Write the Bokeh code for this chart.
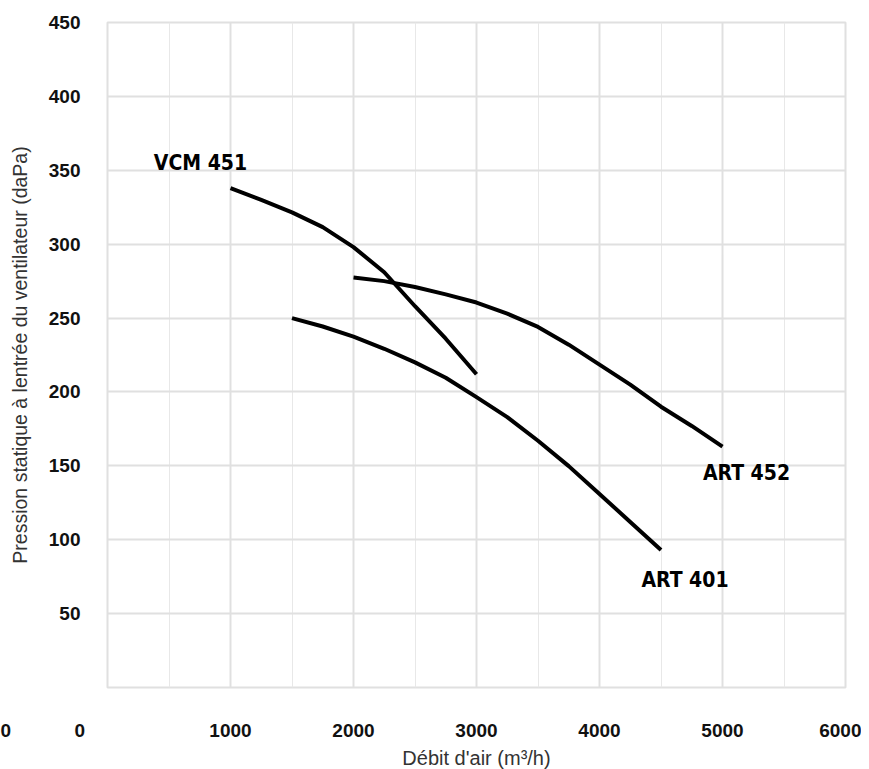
from bokeh.plotting import figure
from bokeh.models import FixedTicker, Range1d, ColumnDataSource
from bokeh.core.properties import value
from bokeh.embed import file_html
from bokeh.resources import INLINE

# ---- data ----
vcm451_x = [1000, 1250, 1500, 1750, 2000, 2250, 2500, 2750, 3000]
vcm451_y = [338, 330, 321.5, 311.5, 298, 281, 258, 236, 212]

art452_x = [2000, 2250, 2500, 2750, 3000, 3250, 3500, 3750, 4000, 4250, 4500, 4750, 5000]
art452_y = [277.5, 275, 271, 266, 260.5, 253, 244, 232, 218.5, 205, 190, 177, 163]

art401_x = [1500, 1750, 2000, 2250, 2500, 2750, 3000, 3250, 3500, 3750, 4000, 4250, 4500]
art401_y = [250, 244.3, 237.5, 229.2, 220, 209.6, 196.5, 183, 167, 149.8, 131, 112, 93]

series_names = ["VCM 451", "ART 452", "ART 401"]
name_x = [756, 5195, 4695]
name_y = [355, 145, 73]

x_ticks = [0, 1000, 2000, 3000, 4000, 5000, 6000]
x_minor = [500, 1500, 2500, 3500, 4500, 5500]
y_ticks = [0, 50, 100, 150, 200, 250, 300, 350, 400, 450]
NB = "\u00a0"
x_zero_label = "0" + NB * 12 + "0" + NB * 31

x_title = "Débit d'air (m³/h)"
y_title = "Pression statique à lentrée du ventilateur (daPa)"

# ---- figure ----
p = figure(width=861, height=767, output_backend="svg", toolbar_location=None,
           x_range=Range1d(0, 6000), y_range=Range1d(0, 450),
           frame_width=738, frame_height=665,
           min_border_left=107, min_border_right=16, min_border_top=22, min_border_bottom=80)
p.background_fill_color = "white"
p.border_fill_color = "white"
p.outline_line_color = "#e0e0e0"
p.outline_line_width = 2

p.xaxis.ticker = FixedTicker(ticks=x_ticks, minor_ticks=x_minor)
p.yaxis.ticker = FixedTicker(ticks=y_ticks)
p.xaxis.major_label_overrides = {0: x_zero_label}
p.yaxis.major_label_overrides = {0: ""}

for ax in (p.xaxis, p.yaxis):
    ax.axis_line_color = None
    ax.major_tick_line_color = None
    ax.minor_tick_line_color = None
    ax.major_tick_out = 0
    ax.major_tick_in = 0
    ax.major_label_text_font = "Liberation Sans"
    ax.major_label_text_font_style = "bold"
    ax.major_label_text_font_size = "19px"
    ax.major_label_text_color = "#111111"
    ax.axis_label_text_font = "Liberation Sans"
    ax.axis_label_text_font_style = "normal"
    ax.axis_label_text_color = "#333333"

p.xaxis.axis_label = x_title
p.yaxis.axis_label = y_title
p.xaxis.axis_label_text_font_size = "20px"
p.yaxis.axis_label_text_font_size = "19.5px"
p.yaxis.major_label_standoff = 27
p.yaxis.axis_label_standoff = 15
p.xaxis.major_label_standoff = 28
p.xaxis.axis_label_standoff = 3

p.xgrid.grid_line_color = "#e0e0e0"
p.xgrid.grid_line_width = 2
p.xgrid.minor_grid_line_color = "#e8e8e8"
p.xgrid.minor_grid_line_width = 1
p.ygrid.grid_line_color = "#e0e0e0"
p.ygrid.grid_line_width = 2

for xs, ys in ((vcm451_x, vcm451_y), (art452_x, art452_y), (art401_x, art401_y)):
    p.line(xs, ys, line_color="black", line_width=4, line_join="round")

src = ColumnDataSource(dict(x=name_x, y=name_y, t=series_names))
p.text(x="x", y="y", text="t", source=src,
       text_font=value("DejaVu Sans Condensed"), text_font_style="bold",
       text_font_size="21px", text_align="center", text_baseline="middle",
       text_color="black")

open("out.html", "w").write(file_html(p, INLINE))
